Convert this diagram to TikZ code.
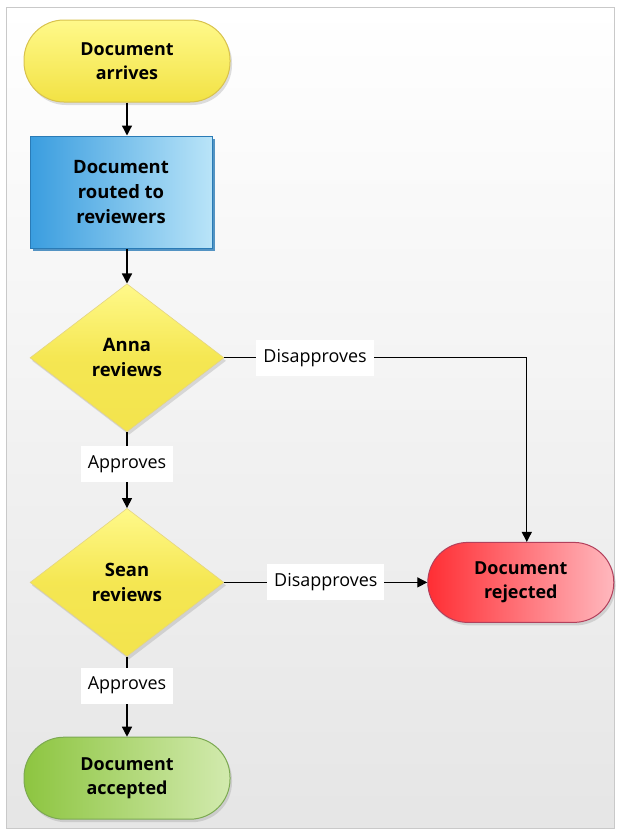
\documentclass[tikz,border=0pt]{standalone}
\usepackage{fontspec}
\setmainfont{Open Sans}
\usepackage{xcolor}
\usepackage{tikz}
\usetikzlibrary{positioning,arrows.meta,shapes.geometric,shadows}

\definecolor{startTop}{HTML}{FFF98A}
\definecolor{startBot}{HTML}{F2E244}
\definecolor{startLine}{HTML}{D8C24E}
\definecolor{procDark}{HTML}{3A9DDF}
\definecolor{procLight}{HTML}{B9E4F8}
\definecolor{procLine}{HTML}{2A7BB6}
\definecolor{rejDark}{HTML}{FF2E34}
\definecolor{rejLight}{HTML}{FFB8BE}
\definecolor{rejLine}{HTML}{B2405C}
\definecolor{accDark}{HTML}{8DC540}
\definecolor{accLight}{HTML}{D2EAAE}
\definecolor{accLine}{HTML}{7CA952}
\definecolor{frameLine}{HTML}{C9C9C9}

\begin{document}
\begin{tikzpicture}[
  font=\fontsize{18}{24}\selectfont,
  shd/.style={drop shadow={shadow xshift=2bp, shadow yshift=-3bp, opacity=0.25}},
  term/.style={draw, line width=1bp, rounded corners=40bp, align=center,
               minimum width=206bp, minimum height=82bp, shd,
               font=\bfseries\fontsize{18}{24}\selectfont},
  proc/.style={draw=procLine, line width=1bp, left color=procDark, right color=procLight,
               align=center, minimum width=182bp, minimum height=112bp,
               drop shadow={shadow xshift=3bp, shadow yshift=-3bp, fill=procLine, opacity=0.8},
               font=\bfseries\fontsize{18.5}{25}\selectfont},
  decide/.style={diamond, draw=startLine!70, line width=0.6bp, top color=startTop, bottom color=startBot!95,
                 middle color=startBot!80!startTop, align=center, inner sep=0pt,
                 minimum width=194bp, minimum height=148bp, shd,
                 font=\bfseries\fontsize{18.5}{25}\selectfont},
  lbl/.style={fill=white, inner xsep=7bp, minimum height=36bp},
  arr/.style={-{Triangle[length=10bp, width=10bp]}, line width=1.3bp}]
\useasboundingbox (0,0) rectangle (620bp,-834bp);
\draw[frameLine, top color=white, bottom color=black!10] (6bp,-7bp) rectangle (614bp,-828bp);
\node[term, draw=startLine, top color=startTop, bottom color=startBot] (arrive) at (127bp,-61bp) {Document\\arrives};
\node[proc, below=33bp of arrive, xshift=-6bp] (route) {Document\\routed to\\reviewers};
\node[decide, below=35bp of route, xshift=6bp] (anna) {Anna\\reviews};
\node[decide, below=76bp of anna] (sean) {Sean\\reviews};
\node[term, draw=accLine, left color=accDark, right color=accLight, below=80bp of sean] (accept) {Document\\accepted};
\node[term, draw=rejLine, left color=rejDark, right color=rejLight, minimum width=186bp, minimum height=80bp,
      right=203bp of sean] (reject) {Document\\rejected};
\draw[arr] (arrive) -- (arrive |- route.north);
\draw[arr] (route.south -| anna) -- (anna);
\draw[arr] (anna) -- node[lbl, pos=0.42] {Approves} (sean);
\draw[arr] (sean) -- node[lbl, pos=0.36] {Approves} (accept);
\draw[arr] (anna.east) -| node[lbl, pos=0.15] {Disapproves} ([xshift=6bp]reject.north);
\draw[arr] (sean.east) -- node[lbl] {Disapproves} (reject.west);
\end{tikzpicture}
\end{document}
